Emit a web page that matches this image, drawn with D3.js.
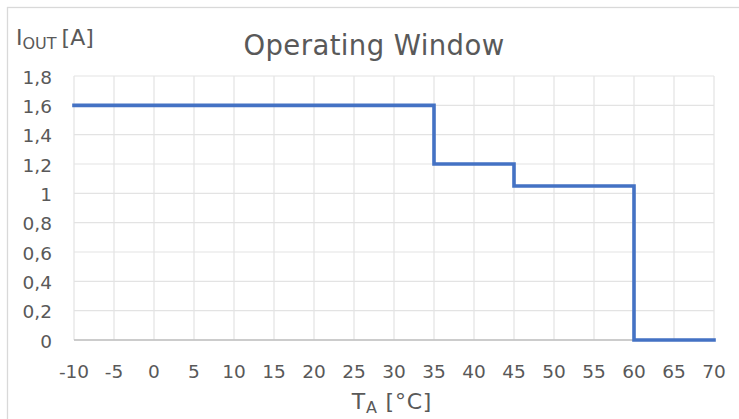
<!DOCTYPE html>
<html><head><meta charset="utf-8">
<script src="https://cdn.jsdelivr.net/npm/d3@7"></script>
<style>body{margin:0;background:#fff}svg{display:block}</style>
</head><body>
<script>
const temps    = [-10, 35, 35, 45, 45, 60, 60, 70];
const currents = [1.6, 1.6, 1.2, 1.2, 1.05, 1.05, 0, 0];
const xTicks = [-10,-5,0,5,10,15,20,25,30,35,40,45,50,55,60,65,70];
const yTicks = [0,0.2,0.4,0.6,0.8,1,1.2,1.4,1.6,1.8];
const yTickLabels = ["0","0,2","0,4","0,6","0,8","1","1,2","1,4","1,6","1,8"];
const titleText = "Operating Window";

const W = 739, H = 419;
const font = "'DejaVu Sans', Verdana, sans-serif";
const txt = "#595959";
const svg = d3.select("body").append("svg").attr("width", W).attr("height", H);

svg.append("rect").attr("x",7.5).attr("y",7.5).attr("width",W).attr("height",H)
  .attr("fill","#fff").attr("stroke","#d9d9d9").attr("stroke-width",1.3);

const x = d3.scaleLinear().domain([-10,70]).range([74,714]);
const y = d3.scaleLinear().domain([0,1.8]).range([340,76]);

// grid
svg.append("g").selectAll("line").data(xTicks).join("line")
  .attr("x1",d=>x(d)).attr("x2",d=>x(d)).attr("y1",y(0)).attr("y2",y(1.8))
  .attr("stroke","#e3e3e3").attr("stroke-width",1.2);
svg.append("g").selectAll("line").data(yTicks).join("line")
  .attr("x1",x(-10)).attr("x2",x(70)).attr("y1",d=>y(d)).attr("y2",d=>y(d))
  .attr("stroke","#e3e3e3").attr("stroke-width",1.2);

// x axis line
svg.append("line").attr("x1",x(-10)).attr("x2",x(70)).attr("y1",y(0)).attr("y2",y(0))
  .attr("stroke","#bfbfbf").attr("stroke-width",1.5);

// tick labels
svg.append("g").selectAll("text").data(xTicks).join("text")
  .attr("x",d=>x(d)).attr("y",371).attr("text-anchor","middle").attr("dominant-baseline","central")
  .attr("font-family",font).attr("font-size",18.5).attr("fill",txt).text(d=>d);
svg.append("g").selectAll("text").data(yTicks).join("text")
  .attr("x",52).attr("y",d=>y(d)+1).attr("text-anchor","end").attr("dominant-baseline","central")
  .attr("font-family",font).attr("font-size",18.5).attr("fill",txt).text((d,i)=>yTickLabels[i]);

// line
const pts = temps.map((t,i)=>[t,currents[i]]);
svg.append("path").datum(pts)
  .attr("d", d3.line().x(d=>x(d[0])).y(d=>y(d[1])))
  .attr("fill","none").attr("stroke","#4472c4").attr("stroke-width",3.6)
  .attr("stroke-linejoin","miter").attr("stroke-linecap","square");

// title
svg.append("text").attr("x",374).attr("y",55).attr("text-anchor","middle")
  .attr("font-family",font).attr("font-size",27.5).attr("letter-spacing",0.4).attr("fill",txt).text(titleText);

// y axis title
const yt = svg.append("text").attr("x",16).attr("y",45)
  .attr("font-family",font).attr("font-size",22).attr("fill",txt);
yt.append("tspan").text("I");
yt.append("tspan").attr("font-size",16).attr("dy",4).text("OUT");
yt.append("tspan").attr("dy",-4).attr("dx",-2).text(" [A]");

// x axis title
const xt = svg.append("text").attr("x",392).attr("y",409).attr("text-anchor","middle")
  .attr("font-family",font).attr("font-size",22).attr("letter-spacing",0.8).attr("fill",txt);
xt.append("tspan").text("T");
xt.append("tspan").attr("font-size",16).attr("dy",4).text("A");
xt.append("tspan").attr("dy",-4).text(" [°C]");
</script>
</body></html>
